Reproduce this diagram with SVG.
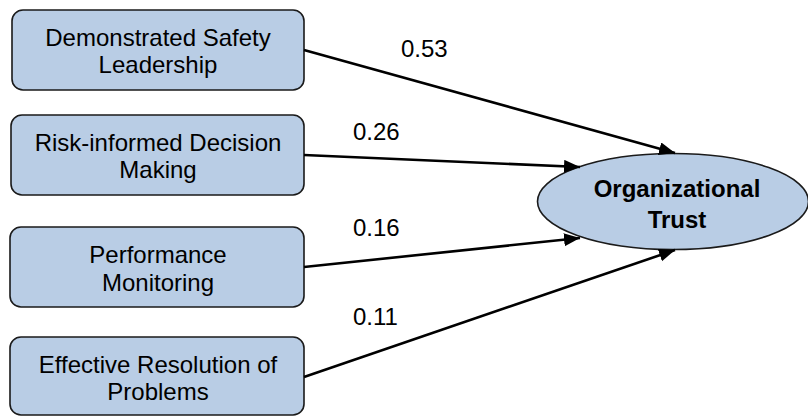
<svg xmlns="http://www.w3.org/2000/svg" width="808" height="416" viewBox="0 0 808 416">
<style>
.box{fill:#B9CDE5;stroke:#1a1a1a;stroke-width:1.6}
.t{font-family:"Liberation Sans",Arial,sans-serif;font-size:24px;fill:#000;text-anchor:middle}
.tb{font-family:"Liberation Sans",Arial,sans-serif;font-size:24px;font-weight:bold;fill:#000;text-anchor:middle}
.lbl{font-family:"Liberation Sans",Arial,sans-serif;font-size:24px;fill:#000}
.edge{stroke:#000;stroke-width:2.6;fill:none;marker-end:url(#arr)}
</style>
<defs>
<marker id="arr" markerUnits="userSpaceOnUse" markerWidth="18" markerHeight="14" refX="16" refY="6.5" orient="auto">
<path d="M0,0 L16,6.5 L0,13 z" fill="#000"/>
</marker>
</defs>
<rect width="808" height="416" fill="#fff"/>
<g id="n1"><rect class="box" x="12" y="10" width="292" height="80" rx="11"/>
<text class="t" x="158" y="46">Demonstrated Safety</text><text class="t" x="158" y="72.7">Leadership</text></g>
<g id="n2"><rect class="box" x="11" y="115" width="293" height="80" rx="11"/>
<text class="t" x="158" y="151">Risk-informed Decision</text><text class="t" x="158" y="177.7">Making</text></g>
<g id="n3"><rect class="box" x="10" y="227" width="294" height="80" rx="11"/>
<text class="t" x="158" y="263">Performance</text><text class="t" x="158" y="290.7">Monitoring</text></g>
<g id="n4"><rect class="box" x="10" y="337" width="294" height="78" rx="11"/>
<text class="t" x="158" y="372.7">Effective Resolution of</text><text class="t" x="158" y="400">Problems</text></g>
<g id="n5"><ellipse class="box" cx="673" cy="201.5" rx="135.5" ry="48"/>
<text class="tb" x="677" y="197.3">Organizational</text><text class="tb" x="677" y="228.3">Trust</text></g>
<g id="connectors">
<line class="edge" x1="304" y1="50" x2="675" y2="153"/>
<line class="edge" x1="304" y1="155" x2="580" y2="167"/>
<line class="edge" x1="304" y1="267" x2="580" y2="238"/>
<line class="edge" x1="304" y1="377" x2="675" y2="250"/>
<text class="lbl" x="401" y="57">0.53</text>
<text class="lbl" x="353" y="140">0.26</text>
<text class="lbl" x="353" y="236">0.16</text>
<text class="lbl" x="353" y="325">0.11</text>
</g>
</svg>
